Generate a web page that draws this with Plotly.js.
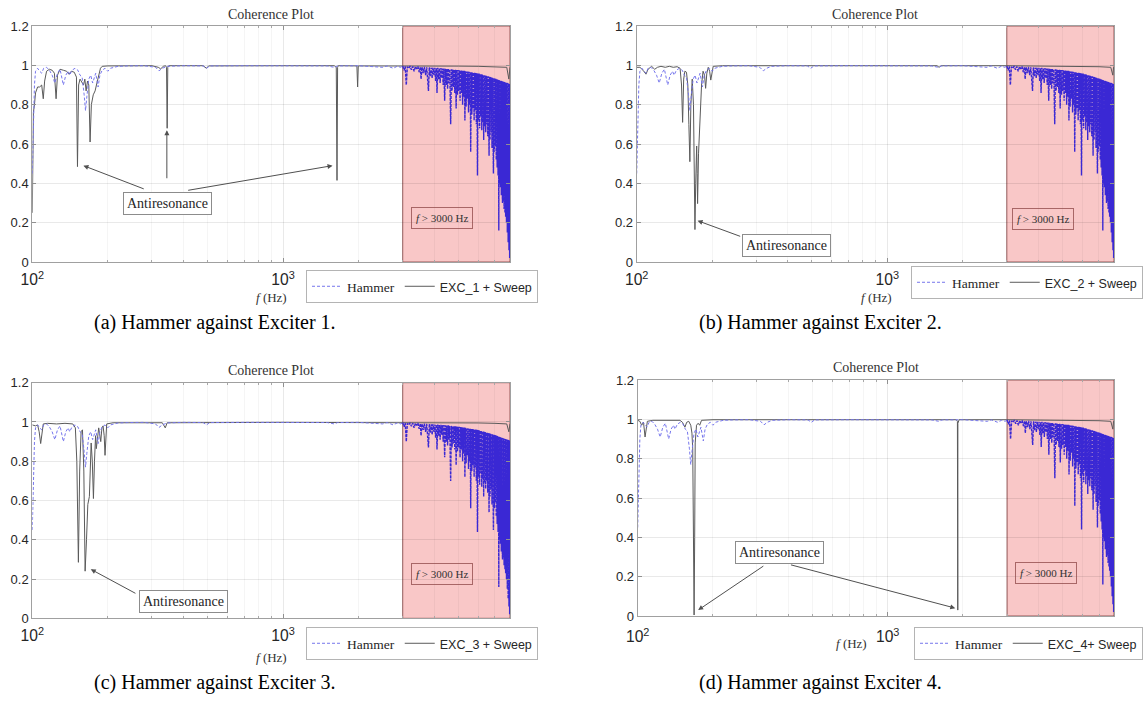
<!DOCTYPE html>
<html>
<head>
<meta charset="utf-8">
<script src="https://cdn.plot.ly/plotly-3.0.1.min.js"></script>
<style>
  html, body { margin: 0; padding: 0; background: #fff; }
  #chart { width: 1145px; height: 707px; }
</style>
</head>
<body>
<div id="chart"></div>
<script>
// Coherence estimates, [frequency (Hz), coherence]
const hammer = [
  [100,0.45],[101,0.70],[102,0.90],[103,0.97],[105,0.985],[107,0.97],[109,0.96],[111,0.985],[114,0.99],[117,0.975],
  [120,0.95],[123,0.91],[126,0.96],[129,0.98],[131,0.94],[133,0.90],[136,0.95],[139,0.97],[141,0.95],[144,0.975],
  [148,0.985],[152,0.975],[155,0.95],[158,0.94],[161,0.85],[163,0.77],[165,0.84],[168,0.93],[171,0.95],[174,0.91],
  [176,0.93],[179,0.96],[183,0.89],[186,0.95],[190,0.975],[195,0.985],[200,0.97],[205,0.985],[212,0.99],[220,0.995],
  [240,0.997],[280,0.998],[310,0.99],[320,0.972],[330,0.985],[345,0.995],[400,0.998],[480,0.997],[495,0.985],[510,0.997],
  [700,0.998],[1000,0.998],[1500,0.997],[1600,0.99],[1650,0.997],[2000,0.998],[2300,0.995],[2500,0.99],[2600,0.997],[2750,0.985],
  [2850,0.995],[2950,0.99],
  [3000,0.997],[3040,0.975],[3070,0.995],[3100,0.90],[3130,0.993],[3170,0.985],[3210,0.996],[3250,0.978],[3290,0.994],[3330,0.97],
  [3370,0.993],[3410,0.982],[3450,0.994],[3490,0.965],[3530,0.992],[3550,0.93],[3580,0.991],[3620,0.96],[3660,0.992],[3700,0.95],
  [3740,0.99],[3770,0.94],[3800,0.87],[3830,0.99],[3860,0.945],[3900,0.988],[3930,0.935],[3960,0.989],[4000,0.95],[4030,0.987],
  [4060,0.92],[4090,0.986],[4110,0.86],[4140,0.987],[4170,0.93],[4200,0.985],[4230,0.91],[4260,0.986],[4290,0.935],[4320,0.984],
  [4350,0.90],[4380,0.984],[4410,0.82],[4440,0.983],[4470,0.90],[4500,0.982],[4530,0.88],[4560,0.983],[4590,0.91],[4620,0.98],
  [4660,0.70],[4690,0.98],[4720,0.87],[4750,0.979],[4780,0.89],[4810,0.978],[4840,0.86],[4870,0.978],[4900,0.78],[4930,0.977],
  [4960,0.85],[4990,0.976],[5020,0.87],[5050,0.975],[5080,0.82],[5110,0.974],[5140,0.86],[5170,0.973],[5200,0.80],[5230,0.972],
  [5260,0.84],[5290,0.972],[5310,0.72],[5340,0.97],[5370,0.79],[5400,0.969],[5430,0.83],[5460,0.968],[5490,0.76],[5520,0.967],
  [5550,0.80],[5580,0.966],[5600,0.56],[5630,0.965],[5660,0.75],[5690,0.964],[5720,0.78],[5750,0.963],[5780,0.72],[5810,0.962],
  [5840,0.77],[5870,0.961],[5900,0.70],[5930,0.96],[5960,0.44],[5990,0.959],[6020,0.72],[6050,0.958],[6080,0.68],[6110,0.956],
  [6140,0.74],[6170,0.955],[6200,0.67],[6230,0.953],[6260,0.71],[6290,0.952],[6310,0.62],[6340,0.95],[6370,0.69],[6400,0.949],
  [6430,0.66],[6460,0.947],[6490,0.70],[6520,0.945],[6550,0.64],[6580,0.944],[6610,0.68],[6630,0.54],[6660,0.942],[6690,0.62],
  [6720,0.94],[6750,0.66],[6780,0.938],[6810,0.58],[6840,0.937],[6870,0.61],[6900,0.45],[6930,0.935],[6960,0.56],[6990,0.934],
  [7020,0.59],[7050,0.932],[7080,0.52],[7110,0.93],[7140,0.48],[7170,0.928],[7200,0.44],[7230,0.926],[7250,0.16],[7270,0.925],
  [7300,0.40],[7330,0.923],[7360,0.38],[7390,0.921],[7420,0.34],[7450,0.92],[7480,0.36],[7500,0.30],[7520,0.918],[7550,0.31],
  [7580,0.916],[7610,0.27],[7640,0.915],[7670,0.25],[7700,0.913],[7720,0.23],[7750,0.912],[7780,0.20],[7810,0.911],[7840,0.15],
  [7870,0.91],[7900,0.10],[7930,0.908],[7960,0.06],[7990,0.905],[8010,0.02],[8035,0.90]
];

const exc1 = [
  [100,0.25],[100.5,0.55],[101,0.76],[102,0.80],[103,0.86],[105,0.89],[107,0.89],[109,0.90],[110.6,0.83],[112,0.92],
  [114,0.97],[117,0.98],[120,0.975],[122.5,0.96],[124.4,0.83],[126,0.95],[129,0.98],[133,0.975],[137,0.97],[140,0.955],
  [143,0.97],[147,0.965],[150,0.94],[151.4,0.485],[153,0.90],[155,0.93],[158,0.91],[160,0.90],[162,0.93],[163.9,0.87],
  [166,0.92],[168,0.90],[170,0.61],[172,0.80],[175,0.85],[178,0.87],[181,0.91],[184,0.95],[187,0.985],[190,0.995],
  [200,0.997],[300,0.998],[318,0.99],[325,0.982],[333,0.995],[340,0.998],[343,0.99],[345,0.68],[347,0.99],[350,0.998],
  [480,0.998],[495,0.985],[505,0.997],[1000,0.998],[1600,0.998],[1630,0.99],[1641,0.415],[1650,0.99],[1660,0.998],[1970,0.997],
  [1983,0.89],[1995,0.997],[3000,0.998],[4000,0.997],[5000,0.996],[6000,0.995],[7000,0.993],[7800,0.99],[7950,0.93],[8000,0.99],
  [8035,0.99]
];

const exc2 = [
  [100,0.99],[103,0.99],[106,0.975],[108.9,0.955],[111,0.98],[114.7,0.995],[118,0.98],[121,0.99],[125,0.995],[130,0.99],
  [135,0.995],[140,0.99],[145,0.993],[149,0.985],[151,0.90],[152.5,0.71],[154,0.93],[155.7,0.97],[158,0.965],[160,0.90],
  [161.5,0.70],[163,0.51],[164.5,0.80],[166.6,0.93],[168.5,0.80],[169.8,0.45],[170.8,0.165],[172,0.40],[173.5,0.59],[174.3,0.45],
  [175,0.297],[176.5,0.55],[179,0.77],[181.5,0.90],[184,0.97],[186.5,0.95],[188.4,0.883],[190.5,0.96],[193,0.99],[195.5,0.97],
  [197.5,0.925],[199.5,0.97],[202,0.995],[220,0.998],[1580,0.998],[1610,0.99],[1640,0.998],[3000,0.998],[4000,0.997],[5000,0.996],
  [6000,0.995],[7000,0.993],[7800,0.99],[7950,0.95],[8000,0.99],[8035,0.99]
];

const exc3 = [
  [100,0.985],[103,0.98],[105,0.985],[106.5,0.95],[108,0.89],[109.5,0.95],[110.6,0.99],[115,0.993],[125,0.99],[135,0.993],
  [145,0.99],[148.5,0.97],[150.5,0.80],[152.7,0.285],[154.5,0.75],[156.5,0.95],[158.5,0.96],[160.5,0.75],[162.4,0.24],[164.5,0.40],
  [166.5,0.58],[168.9,0.62],[170.5,0.75],[171.7,0.893],[173.5,0.80],[175.3,0.61],[177,0.80],[178.8,0.93],[180,0.864],[182,0.93],
  [184,0.97],[187.5,0.90],[189.5,0.97],[191.5,0.98],[193.5,0.93],[195,0.83],[196.5,0.93],[198,0.99],[210,0.996],[330,0.996],
  [339,0.97],[345,0.996],[1000,0.998],[3000,0.998],[4000,0.997],[5000,0.996],[6000,0.995],[7000,0.993],[7800,0.99],[7950,0.95],
  [8000,0.99],[8035,0.99]
];

const exc4 = [
  [100,0.995],[102,0.99],[103.7,0.97],[105.5,0.985],[107,0.91],[108.3,0.96],[109.3,0.99],[115,0.995],[147.6,0.995],[151,0.985],
  [154.5,0.96],[157,0.985],[160,0.99],[163,0.97],[164.8,0.93],[166,0.85],[167,0.30],[168.1,0.005],[169,0.40],[169.8,0.88],
  [171.9,0.97],[174.5,0.98],[177,0.97],[180,0.995],[200,0.998],[1880,0.998],[1900,0.99],[1903,0.74],[1905,0.95],[1906,0.03],
  [1908,0.98],[1930,0.998],[3000,0.998],[4000,0.997],[5000,0.996],[6000,0.995],[7000,0.993],[7800,0.99],[7950,0.95],[8000,0.99],
  [8035,0.99]
];

const excSeries = [exc1, exc2, exc3, exc4];
const excNames = ['EXC_1 + Sweep', 'EXC_2 + Sweep', 'EXC_3 + Sweep', 'EXC_4+ Sweep'];
const hammerName = 'Hammer';
const captions = [
  '(a) Hammer against Exciter 1.',
  '(b) Hammer against Exciter 2.',
  '(c) Hammer against Exciter 3.',
  '(d) Hammer against Exciter 4.'
];
const plotTitle = 'Coherence Plot';
const xLabel = '<i>f</i> (Hz)';
const bandLabel = '<i>f</i> &gt; 3000 Hz';
const bandStart = 3000;   // Hz, start of the highlighted band
const fMin = 100, fMax = 8035;
const antiLabel = 'Antiresonance';

// Callout boxes: [freq, coherence] of the box, arrows as [tipF, tipC, tailF, tailC]
const antiCallouts = [
  { at: [346.5, 0.298], arrows: [[159.9, 0.49, 286, 0.366], [344, 0.67, 344, 0.375], [1575, 0.49, 407, 0.362]] },
  { at: [396, 0.086],   arrows: [[175, 0.21, 266, 0.125]] },
  { at: [402, 0.085],   arrows: [[171, 0.25, 265, 0.119]] },
  { at: [368, 0.324],   arrows: [[174.5, 0.03, 327, 0.264], [1863, 0.04, 399, 0.264]] }
];
const bandLabelPos = [[4285, 0.224], [4195, 0.219], [4285, 0.226], [4295, 0.22]];

// ---- page geometry (pixels in a 1145 x 707 canvas) ----
const W = 1145, H = 707;
const frames = [
  { x0: 32.3,  x1: 510,  y0: 26,    y1: 262,   legend: [538, 270],  title: [271.2, 15],  xlab: [271, 297], cap: [215, 322] },
  { x0: 636.7, x1: 1114, y0: 26,    y1: 262,   legend: [1143, 266], title: [875.4, 15],  xlab: [876, 297], cap: [820, 322] },
  { x0: 32.3,  x1: 510,  y0: 382.7, y1: 618.3, legend: [538, 627],  title: [271.2, 370], xlab: [271, 657], cap: [215, 682] },
  { x0: 637.7, x1: 1114, y0: 380,   y1: 616,   legend: [1143, 627], title: [875.9, 367], xlab: [851, 643], cap: [820, 682] }
];

const SERIF = 'Liberation Serif, Times New Roman, serif';
const SANS = 'Liberation Sans, Arial, sans-serif';
const L10 = Math.log10;

const traces = [];
const annotations = [];
const shapes = [];
const layout = {
  width: W, height: H,
  margin: { l: 0, r: 0, t: 0, b: 0 },
  paper_bgcolor: '#ffffff',
  plot_bgcolor: '#ffffff',
  showlegend: true,
  annotations, shapes
};

const lowPart = hammer.filter(d => d[0] <= bandStart);
const highPart = hammer.filter(d => d[0] >= bandStart);

frames.forEach((fr, i) => {
  const n = i === 0 ? '' : String(i + 1);
  const xa = 'x' + n, ya = 'y' + n, lg = 'legend' + n;
  const exc = excSeries[i];

  traces.push({
    type: 'scatter', mode: 'lines', xaxis: xa, yaxis: ya, legend: lg,
    x: exc.map(d => d[0]), y: exc.map(d => d[1]),
    name: '<span style="font-family:' + SANS + ';font-size:12.5px">' + excNames[i] + '</span>',
    legendrank: 2,
    line: { color: '#5a5a5a', width: 1 }
  });
  traces.push({
    type: 'scatter', mode: 'lines', xaxis: xa, yaxis: ya, legend: lg,
    x: lowPart.map(d => d[0]), y: lowPart.map(d => d[1]),
    name: hammerName, legendgroup: 'ham' + i, legendrank: 1,
    line: { color: 'rgb(118,118,236)', width: 1, dash: '3px,2px' }
  });
  // dense high-frequency part of the same hammer record
  traces.push({
    type: 'scatter', mode: 'lines', xaxis: xa, yaxis: ya, legend: lg,
    x: highPart.map(d => d[0]), y: highPart.map(d => d[1]),
    name: hammerName, legendgroup: 'ham' + i, showlegend: false,
    line: { color: 'rgb(58,40,212)', width: 1.4, dash: '3px,1px' }
  });

  layout['xaxis' + n] = {
    type: 'log', range: [L10(fMin), L10(fMax)], domain: [fr.x0 / W, fr.x1 / W], anchor: ya,
    dtick: 1, exponentformat: 'power', ticklabelstandoff: i === 3 ? 7 : 4,
    tickfont: { family: SANS, size: 12.5, color: '#262626' },
    ticks: 'inside', ticklen: 4, tickcolor: '#909090', mirror: 'ticks',
    showline: true, linecolor: '#a0a0a0', linewidth: 1,
    showgrid: true, gridcolor: 'rgba(0,0,0,0.085)', gridwidth: 1,
    minor: { dtick: 'D1', showgrid: true, gridcolor: 'rgba(0,0,0,0.04)', ticks: 'inside', ticklen: 2, tickcolor: '#a8a8a8' },
    zeroline: false, fixedrange: true
  };
  layout['yaxis' + n] = {
    range: [0, 1.2], domain: [1 - fr.y1 / H, 1 - fr.y0 / H], anchor: xa,
    dtick: 0.2, tick0: 0,
    tickfont: { family: SANS, size: 13, color: '#262626' },
    ticks: 'inside', ticklen: 4, tickcolor: '#909090', mirror: 'ticks',
    showline: true, linecolor: '#a0a0a0', linewidth: 1,
    showgrid: true, gridcolor: 'rgba(0,0,0,0.085)', gridwidth: 1,
    zeroline: false, fixedrange: true
  };

  layout[lg] = {
    orientation: 'h', xref: 'paper', yref: 'paper',
    x: fr.legend[0] / W, xanchor: 'right', y: 1 - fr.legend[1] / H, yanchor: 'top',
    bgcolor: '#ffffff', bordercolor: '#b4b4b4', borderwidth: 1,
    font: { family: SERIF, size: 13.5, color: '#262626' },
    traceorder: 'normal', tracegroupgap: 0, itemwidth: 30
  };

  // highlighted band above 3000 Hz
  shapes.push({
    type: 'rect', layer: 'below', xref: xa, yref: ya + ' domain',
    x0: bandStart, x1: fMax, y0: 0, y1: 1,
    fillcolor: '#f9c7c7', line: { color: 'rgba(120,50,50,0.75)', width: 1 }
  });

  annotations.push({
    xref: xa, yref: ya, x: L10(bandLabelPos[i][0]), y: bandLabelPos[i][1],
    text: bandLabel, showarrow: false,
    font: { family: SERIF, size: 11, color: '#333333' },
    bordercolor: 'rgba(140,70,70,0.75)', borderwidth: 1, borderpad: 4
  });

  // antiresonance callout and its arrows
  const co = antiCallouts[i];
  co.arrows.forEach(a => {
    annotations.push({
      xref: xa, yref: ya, axref: xa, ayref: ya,
      x: L10(a[0]), y: a[1], ax: L10(a[2]), ay: a[3],
      showarrow: true, arrowhead: 2, arrowsize: 1, arrowwidth: 1, arrowcolor: '#505050', standoff: 0
    });
  });
  annotations.push({
    xref: xa, yref: ya, x: L10(co.at[0]), y: co.at[1],
    text: antiLabel, showarrow: false,
    font: { family: SERIF, size: 14, color: '#262626' },
    bgcolor: '#ffffff', bordercolor: '#8c8c8c', borderwidth: 1, borderpad: 3
  });

  // panel title, axis label and caption
  annotations.push({
    xref: 'paper', yref: 'paper', x: fr.title[0] / W, y: 1 - fr.title[1] / H,
    xanchor: 'center', yanchor: 'middle', showarrow: false,
    text: plotTitle, font: { family: SERIF, size: 14, color: '#333333' }
  });
  annotations.push({
    xref: 'paper', yref: 'paper', x: fr.xlab[0] / W, y: 1 - fr.xlab[1] / H,
    xanchor: 'center', yanchor: 'middle', showarrow: false,
    text: xLabel, font: { family: SERIF, size: 13, color: '#333333' }
  });
  annotations.push({
    xref: 'paper', yref: 'paper', x: fr.cap[0] / W, y: 1 - fr.cap[1] / H,
    xanchor: 'center', yanchor: 'middle', showarrow: false,
    text: captions[i], font: { family: SERIF, size: 20, color: '#000000' }
  });
});

Plotly.newPlot('chart', traces, layout, { displayModeBar: false, staticPlot: true });
</script>
</body>
</html>
